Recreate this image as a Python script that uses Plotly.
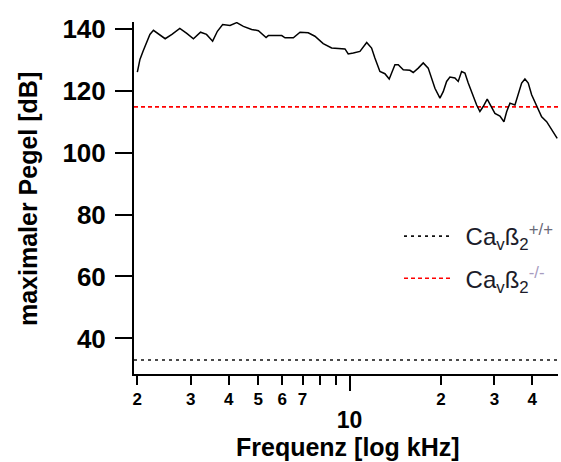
import numpy as np
import plotly.graph_objects as go

# Maximum level (dB) across frequency (kHz)
freq_khz = [2.00, 2.04, 2.09, 2.15, 2.20, 2.26, 2.35, 2.47, 2.60, 2.76, 2.91, 3.06,
            3.23, 3.38, 3.54, 3.67, 3.82, 4.04, 4.25, 4.47, 4.76, 5.01, 5.31, 5.40,
            5.98, 6.13, 6.53, 6.87, 7.31, 7.69, 8.19, 8.73, 9.66, 9.90, 10.29, 10.82,
            11.39, 11.82, 12.12, 12.59, 13.08, 13.51, 13.76, 14.11, 14.47, 15.03, 15.81,
            16.21, 16.84, 17.49, 18.16, 18.64, 19.11, 19.85, 20.35, 20.88, 21.41, 22.24,
            22.80, 23.39, 23.99, 24.60, 25.43, 26.22, 26.88, 27.56, 28.41, 29.15, 30.12,
            31.29, 32.25, 32.92, 33.76, 35.06, 35.95, 36.89, 37.82, 38.78, 39.79, 41.33,
            42.93, 44.59, 46.31, 48.31]
max_level_db = [126.0, 130.1, 132.8, 135.5, 138.2, 139.5, 138.2, 136.8, 138.2, 140.1, 138.5, 136.8,
                138.9, 138.2, 136.0, 139.2, 141.4, 141.1, 142.0, 140.8, 139.8, 139.4, 137.2, 137.8,
                137.8, 137.1, 137.1, 138.9, 138.7, 137.6, 135.2, 133.8, 133.5, 131.9, 132.2, 132.7,
                135.6, 133.8, 130.6, 126.2, 125.5, 123.8, 125.7, 128.4, 128.4, 126.8, 126.6,
                125.9, 127.3, 129.0, 127.3, 124.1, 120.8, 117.6, 119.7, 123.0, 124.4, 124.1,
                123.0, 126.2, 125.7, 122.5, 118.7, 115.4, 113.3, 114.9, 117.3, 115.4, 112.7,
                111.8, 110.0, 113.2, 116.0, 115.4, 119.2, 122.5, 123.8, 122.5, 118.7, 114.9,
                111.6, 110.0, 107.3, 104.6]

# Reference levels per genotype
level_wt_db = 33.0
level_het_db = 114.8

# Axis extents
x_range_khz = [1.95, 48.6]
y_range_db = [28.5, 142.2]

# Tick labels
y_ticks = [40, 60, 80, 100, 120, 140]
x_ticks = [2, 3, 4, 5, 6, 7, 8, 9, 10, 20, 30, 40]
x_ticktext = ["2", "3", "4", "5", "6", "7", "", "",
              "<br><span style='font-size:23px'>10</span>", "2", "3", "4"]

# Legend labels (thin spaces keep the text clear of the line sample)
label_wt = "\u2009\u2009Ca<sub>v</sub>ß<sub>2</sub><sup><span style='color:#6a6a78'>+/+</span></sup>"
label_het = "\u2009\u2009Ca<sub>v</sub>ß<sub>2</sub><sup><span style='color:#a89cc0'>-/-</span></sup>"

FONT = "Liberation Sans, Arial, sans-serif"

fig = go.Figure()

fig.add_trace(go.Scatter(
    x=x_range_khz, y=[level_wt_db, level_wt_db], mode="lines",
    line=dict(color="#111111", width=1.6, dash="3px,4px"),
    name=label_wt, legendgroup="wt",
))
fig.add_trace(go.Scatter(
    x=x_range_khz, y=[level_het_db, level_het_db], mode="lines",
    line=dict(color="#ff0000", width=1.6, dash="4px,3px"),
    name=label_het, legendgroup="het",
))
fig.add_trace(go.Scatter(
    x=freq_khz, y=max_level_db, mode="lines",
    line=dict(color="#000000", width=1.5),
    showlegend=False,
))

fig.update_layout(
    width=561, height=462,
    margin=dict(l=134, r=3, t=22, b=88),
    paper_bgcolor="white", plot_bgcolor="white",
    font=dict(family=FONT, color="#000000"),
    showlegend=True,
    legend=dict(
        x=0.625, xanchor="left", y=0.331, yanchor="middle",
        bgcolor="rgba(0,0,0,0)", borderwidth=0,
        font=dict(family=FONT, size=24, color="#1c1c2a"),
        tracegroupgap=8, itemwidth=47,
    ),
    xaxis=dict(
        type="log", range=[np.log10(x_range_khz[0]), np.log10(x_range_khz[1])],
        showgrid=False, zeroline=False,
        showline=True, linecolor="black", linewidth=2,
        ticks="outside", ticklen=9, tickwidth=2, tickcolor="black",
        tickmode="array", tickvals=x_ticks, ticktext=x_ticktext,
        tickfont=dict(family=FONT, size=17, weight="bold"),
        minor=dict(tickmode="array", tickvals=[10], ticks="outside",
                   ticklen=15, tickwidth=2, tickcolor="black", showgrid=False),
    ),
    yaxis=dict(
        range=y_range_db,
        showgrid=False, zeroline=False,
        showline=True, linecolor="black", linewidth=2,
        ticks="outside", ticklen=17, tickwidth=2, tickcolor="black",
        tickmode="array", tickvals=y_ticks,
        tickfont=dict(family=FONT, size=26, weight="bold"),
        ticklabelstandoff=4,
    ),
    annotations=[
        dict(text="maximaler Pegel [dB]", xref="paper", yref="paper",
             x=0, y=0.497, xshift=-106, xanchor="center", yanchor="middle",
             textangle=-90, showarrow=False,
             font=dict(family=FONT, size=25, weight="bold")),
        dict(text="Frequenz [log kHz]", xref="paper", yref="paper",
             x=0.505, y=0, yshift=-73, xanchor="center", yanchor="middle",
             showarrow=False,
             font=dict(family=FONT, size=25, weight="bold")),
    ],
)

fig.write_html("out.html")
